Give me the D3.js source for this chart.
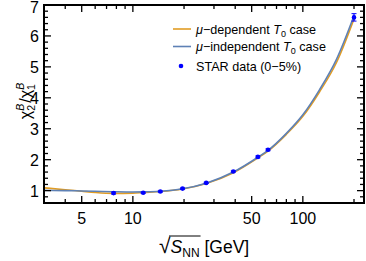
<!DOCTYPE html>
<html><head><meta charset="utf-8">
<script src="https://cdn.jsdelivr.net/npm/d3@7"></script>
<style>body{margin:0;background:#fff}svg{display:block;font-family:"Liberation Sans",Arial,sans-serif}</style>
</head><body><svg id="c" width="366" height="261"></svg>
<script>
const curveX = [3, 4, 5, 6, 7.7, 10, 11.5, 14.5, 19.6, 27, 39, 54.4, 62.4, 80, 100, 125, 158, 200];
const muIndependent = [1.01, 1.0, 0.99, 0.98, 0.965, 0.955, 0.96, 0.98, 1.06, 1.24, 1.6, 2.08, 2.3, 2.85, 3.45, 4.25, 5.25, 6.65];
const muDependent = [1.09, 1.03, 0.98, 0.94, 0.91, 0.92, 0.94, 0.97, 1.05, 1.23, 1.58, 2.06, 2.28, 2.82, 3.4, 4.18, 5.15, 6.55];
const starEnergy = [7.7, 11.5, 14.5, 19.6, 27, 39, 54.4, 62.4, 200];
const starValue = [0.92, 0.93, 0.97, 1.065, 1.25, 1.62, 2.09, 2.32, 6.6];
const starError = [0.03, 0.02, 0.02, 0.02, 0.02, 0.02, 0.03, 0.03, 0.12];
const xMajorTicks = [5, 10, 50, 100];
const xMinorTicks = [3, 4, 6, 7, 8, 9, 20, 30, 40, 60, 70, 80, 90, 200];
const yMajorTicks = [1, 2, 3, 4, 5, 6, 7];

const svg = d3.select("#c");
const L = 44, R = 364, T = 5, B = 203;
const x = d3.scaleLog().domain([3, 229]).range([L, R]);
const y = d3.scaleLinear().domain([0.6, 7]).range([B, T]);
const orange = "#E19C24", blue = "#5E81B5", dot = "#0000ff";

const line = d3.line().x(d => x(d[0])).y(d => y(d[1])).curve(d3.curveMonotoneX);
svg.append("clipPath").attr("id","cp").append("rect").attr("x",L).attr("y",T).attr("width",R-L).attr("height",B-T);
const g = svg.append("g").attr("clip-path","url(#cp)");
g.append("path").attr("d", line(curveX.map((v,i)=>[v, muDependent[i]]))).attr("fill","none").attr("stroke",orange).attr("stroke-width",1.6);
g.append("path").attr("d", line(curveX.map((v,i)=>[v, muIndependent[i]]))).attr("fill","none").attr("stroke",blue).attr("stroke-width",1.6);

// data points
const pts = svg.append("g");
starEnergy.forEach((e,i)=>{
  const cx = x(e);
  pts.append("line").attr("x1",cx).attr("x2",cx).attr("y1",y(starValue[i]-starError[i])).attr("y2",y(starValue[i]+starError[i])).attr("stroke",dot).attr("stroke-width",1.2);
  [starValue[i]-starError[i], starValue[i]+starError[i]].forEach(v=>{
    pts.append("line").attr("x1",cx-2.5).attr("x2",cx+2.5).attr("y1",y(v)).attr("y2",y(v)).attr("stroke",dot).attr("stroke-width",1);
  });
  pts.append("circle").attr("cx",cx).attr("cy",y(starValue[i])).attr("r",2.3).attr("fill",dot);
});

// frame
svg.append("rect").attr("x",L).attr("y",T).attr("width",R-L).attr("height",B-T).attr("fill","none").attr("stroke","#000").attr("stroke-width",2);

// axes with inward ticks
const ax = svg.append("g").attr("stroke","#000").attr("stroke-width",1.3);
xMajorTicks.forEach(v=>{
  ax.append("line").attr("x1",x(v)).attr("x2",x(v)).attr("y1",B).attr("y2",B-7);
  ax.append("line").attr("x1",x(v)).attr("x2",x(v)).attr("y1",T).attr("y2",T+7);
});
xMinorTicks.forEach(v=>{
  ax.append("line").attr("x1",x(v)).attr("x2",x(v)).attr("y1",B).attr("y2",B-4);
  ax.append("line").attr("x1",x(v)).attr("x2",x(v)).attr("y1",T).attr("y2",T+4);
});
const yMinor = d3.range(0.6, 7.0001, 0.2).filter(v => Math.abs(v - Math.round(v)) > 0.01);
yMajorTicks.forEach(v=>{
  ax.append("line").attr("x1",L).attr("x2",L+7).attr("y1",y(v)).attr("y2",y(v));
  ax.append("line").attr("x1",R).attr("x2",R-7).attr("y1",y(v)).attr("y2",y(v));
});
yMinor.forEach(v=>{
  ax.append("line").attr("x1",L).attr("x2",L+4).attr("y1",y(v)).attr("y2",y(v));
  ax.append("line").attr("x1",R).attr("x2",R-4).attr("y1",y(v)).attr("y2",y(v));
});

// tick labels
const fs = 16;
xMajorTicks.forEach(v=>{
  svg.append("text").attr("x",x(v)).attr("y",B+21).attr("text-anchor","middle").attr("font-size",fs).text(v);
});
yMajorTicks.forEach(v=>{
  svg.append("text").attr("x",L-5).attr("y",Math.max(y(v)+6,13)).attr("text-anchor","end").attr("font-size",fs).text(v);
});

// y label
const yl = svg.append("text").attr("transform","translate(31,101) rotate(-90)").attr("text-anchor","middle").attr("font-size",16);
yl.append("tspan").text("χ");
yl.append("tspan").attr("font-size",10.5).attr("dy",4).text("2");
yl.append("tspan").attr("font-size",10.5).attr("font-style","italic").attr("dy",-11.5).attr("dx",-5.8).text("B");
yl.append("tspan").attr("dy",7.5).attr("dx",1).text("/χ");
yl.append("tspan").attr("font-size",10.5).attr("dy",4).text("1");
yl.append("tspan").attr("font-size",10.5).attr("font-style","italic").attr("dy",-11.5).attr("dx",-5.8).text("B");

// x label
const x0 = 159;
const xl = svg.append("text").attr("x",x0).attr("y",253).attr("font-size",17.5);
xl.append("tspan").attr("font-size",21).text("√");
xl.append("tspan").attr("font-style","italic").text("S");
xl.append("tspan").attr("font-size",12).attr("dy",4).text("NN");
xl.append("tspan").attr("dy",-4).text(" [GeV]");
const sqrtW = xl.node().getSubStringLength(0,1);
const nnEnd = xl.node().getSubStringLength(0,4);
svg.append("line").attr("x1",x0+sqrtW-1.5).attr("x2",x0+nnEnd+1).attr("y1",236).attr("y2",236).attr("stroke","#000").attr("stroke-width",1);

// legend
const lg = svg.append("g").attr("font-size",12.6);
const rows = [[orange,"dependent",29],[blue,"independent",46.5]];
rows.forEach(r=>{
  lg.append("line").attr("x1",173).attr("x2",191).attr("y1",r[2]).attr("y2",r[2]).attr("stroke",r[0]).attr("stroke-width",1.6);
  const t = lg.append("text").attr("x",196).attr("y",r[2]+4.5);
  t.append("tspan").attr("font-style","italic").text("μ");
  t.append("tspan").text("−"+r[1]+" ");
  t.append("tspan").attr("font-style","italic").text("T");
  t.append("tspan").attr("font-size",9).attr("dy",3).text("0");
  t.append("tspan").attr("dy",-3).text(" case");
});
lg.append("circle").attr("cx",181).attr("cy",66).attr("r",2.3).attr("fill",dot);
lg.append("text").attr("x",196).attr("y",70.5).text("STAR data (0−5%)");
</script></body></html>
